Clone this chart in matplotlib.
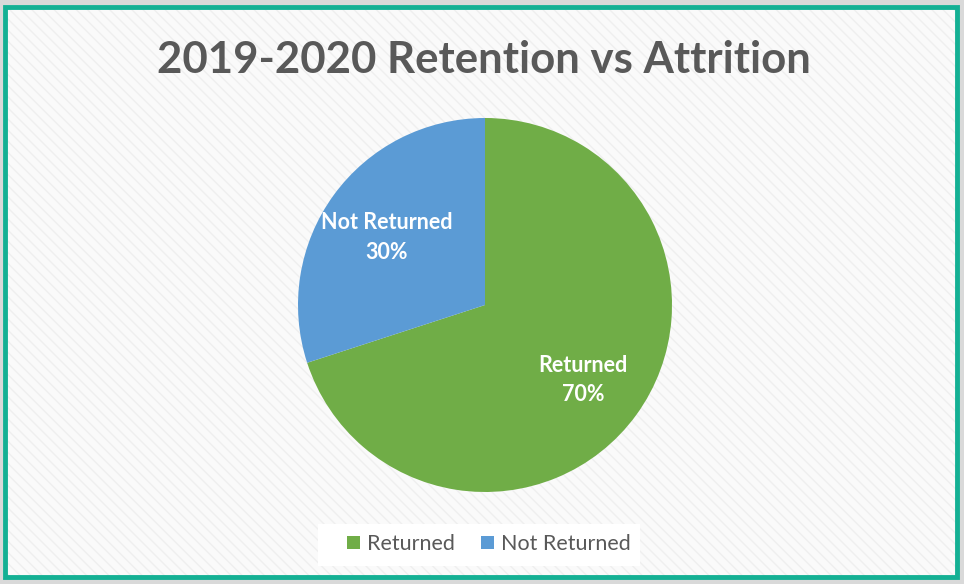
import matplotlib
matplotlib.use("Agg")
import matplotlib.pyplot as plt
from matplotlib.patches import Rectangle

categories = ["Returned", "Not Returned"]
values = [70, 30]
colors = ["#70ad47", "#5b9bd5"]
title = "2019-2020 Retention vs Attrition"

W, H = 964, 584
fig = plt.figure(figsize=(W / 100, H / 100), dpi=100)
fig.patch.set_facecolor("#d9d9d9")

# background panel with light diagonal stripes
bg = fig.add_axes([0, 0, 1, 1])
bg.set_xlim(0, W)
bg.set_ylim(H, 0)
bg.axis("off")
bg.add_patch(Rectangle((3, 5), 955, 573, facecolor="#fafafa", edgecolor="none", zorder=0))
bg.add_patch(Rectangle((3, 5), 955, 573, facecolor="none", edgecolor="#efefef", hatch="\\\\\\", linewidth=0, zorder=1))
bg.add_patch(Rectangle((4.5, 6.5), 952, 570, facecolor="none", edgecolor="#14b094", linewidth=3.5, zorder=5))
# legend backing box
bg.add_patch(Rectangle((318, 524), 322, 42, facecolor="white", edgecolor="none", zorder=2))

bg.text(484, 60, title, ha="center", va="center", fontsize=31.5, fontweight="bold",
        color="#595959", family="Lato", zorder=6)

cx, cy, r = 485, 305, 187
ax = fig.add_axes([(cx - r) / W, (H - cy - r) / H, 2 * r / W, 2 * r / H])
labels = [f"{c}\n{v}%" for c, v in zip(categories, values)]
wedges, texts = ax.pie(values, colors=colors, startangle=90, counterclock=False,
                       labels=labels, labeldistance=0.65,
                       textprops=dict(color="white", fontsize=15.5, fontweight="bold",
                                      family="Lato", ha="center", va="center",
                                      linespacing=1.5),
                       wedgeprops=dict(linewidth=0))
for t in texts:
    t.set_horizontalalignment("center")
    x, y = t.get_position()
    t.set_position((x, y - 0.02))
ax.set_xlim(-1, 1)
ax.set_ylim(-1, 1)
ax.set_aspect("equal")
ax.axis("off")

leg = fig.legend(wedges, categories, loc="center", bbox_to_anchor=(489 / W, 1 - 544 / H),
                 ncol=2, frameon=False, handlelength=0.6, handleheight=0.6,
                 handletextpad=0.35, columnspacing=1.2,
                 prop=dict(family="Lato", size=15.5))
for t in leg.get_texts():
    t.set_color("#595959")

fig.savefig("out.png", dpi=100, facecolor=fig.get_facecolor())
